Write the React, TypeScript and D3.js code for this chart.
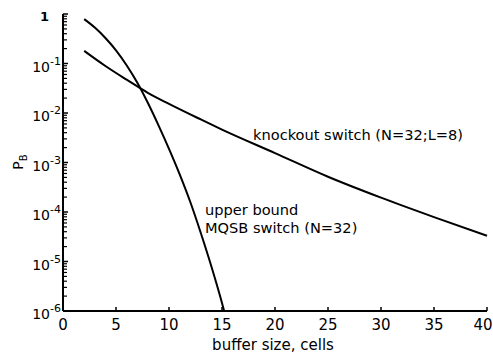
import React from "react";
import * as d3 from "d3";

const xTicks = [0, 5, 10, 15, 20, 25, 30, 35, 40];
const yDecades = [0, -1, -2, -3, -4, -5, -6];

const knockoutX = [2, 4, 6, 8, 10, 13, 15, 20, 25, 30, 35, 40];
const knockoutY = [0.18, 0.0891, 0.0472, 0.0256, 0.0153, 0.00741, 0.00463, 0.00155, 5.16e-4, 1.95e-4, 7.89e-5, 3.31e-5];

const mqsbX = [2, 3, 4, 5, 6, 7, 8, 9, 10, 11, 12, 13, 14, 15, 15.2];
const mqsbY = [0.787, 0.532, 0.328, 0.185, 0.0925, 0.0413, 0.0161, 0.0057, 0.00189, 5.83e-4, 1.61e-4, 3.77e-5, 7.94e-6, 1.45e-6, 1e-6];

const W = 493, H = 356;

export default function App() {
  const x = d3.scaleLinear().domain([0, 40]).range([63, 487]);
  const y = d3.scaleLog().domain([1e-6, 1]).range([311, 14]);
  const line = d3
    .line<[number, number]>()
    .x((d) => x(d[0]))
    .y((d) => y(d[1]))
    .curve(d3.curveMonotoneX);
  const ko = knockoutX.map((v, i) => [v, knockoutY[i]] as [number, number]);
  const mq = mqsbX.map((v, i) => [v, mqsbY[i]] as [number, number]);

  const minor: number[] = [];
  for (let e = -6; e < 0; e++) {
    for (let m = 2; m <= 9; m++) minor.push(m * Math.pow(10, e));
  }
  const font = "'DejaVu Sans', Verdana, sans-serif";

  return (
    <svg
      width={W}
      height={H}
      style={{ position: "absolute", left: 0, top: 0, background: "#fff" }}
      fontFamily={font}
    >
      <rect width={W} height={H} fill="#fff" />
      <line x1={x(0)} x2={x(0)} y1={y(1)} y2={y(1e-6)} stroke="#000" strokeWidth={2} />
      <line x1={x(0)} x2={x(40)} y1={y(1e-6)} y2={y(1e-6)} stroke="#000" strokeWidth={2} />
      {minor.map((v, i) => (
        <line key={"m" + i} x1={x(0)} x2={x(0) + 4} y1={y(v)} y2={y(v)} stroke="#000" strokeWidth={1.2} />
      ))}
      {yDecades.map((e) => (
        <line key={"M" + e} x1={x(0)} x2={x(0) + 5} y1={y(Math.pow(10, e))} y2={y(Math.pow(10, e))} stroke="#000" strokeWidth={1.5} />
      ))}
      {yDecades.map((e) =>
        e === 0 ? (
          <text key={"t" + e} x={49} y={y(1) + 7} fontSize={13} fontWeight="bold" textAnchor="end">
            1
          </text>
        ) : (
          <text key={"t" + e} x={50} y={y(Math.pow(10, e)) + 8} fontSize={14} textAnchor="end">
            10
            <tspan dy={-7} fontSize={11} x={50} textAnchor="start">
              {"-" + Math.abs(e)}
            </tspan>
          </text>
        )
      )}
      {xTicks.map((t) => (
        <g key={"x" + t}>
          <line x1={x(t)} x2={x(t)} y1={y(1e-6)} y2={y(1e-6) - 4} stroke="#000" strokeWidth={1.5} />
          <text x={Math.min(x(t), W - 10)} y={330} fontSize={15} textAnchor="middle">
            {t}
          </text>
        </g>
      ))}
      <text x={273} y={350} fontSize={15} textAnchor="middle">
        buffer size, cells
      </text>
      <text transform="translate(23,162) rotate(-90)" fontSize={14} textAnchor="middle">
        P
        <tspan fontSize={10} dy={4}>B</tspan>
      </text>
      <path d={line(ko) || ""} fill="none" stroke="#000" strokeWidth={2} />
      <path d={line(mq) || ""} fill="none" stroke="#000" strokeWidth={2} />
      <text x={253} y={140} fontSize={14.6}>knockout switch (N=32;L=8)</text>
      <text x={205} y={215} fontSize={14.6}>upper bound</text>
      <text x={205} y={233} fontSize={14.6}>MQSB switch (N=32)</text>
    </svg>
  );
}
